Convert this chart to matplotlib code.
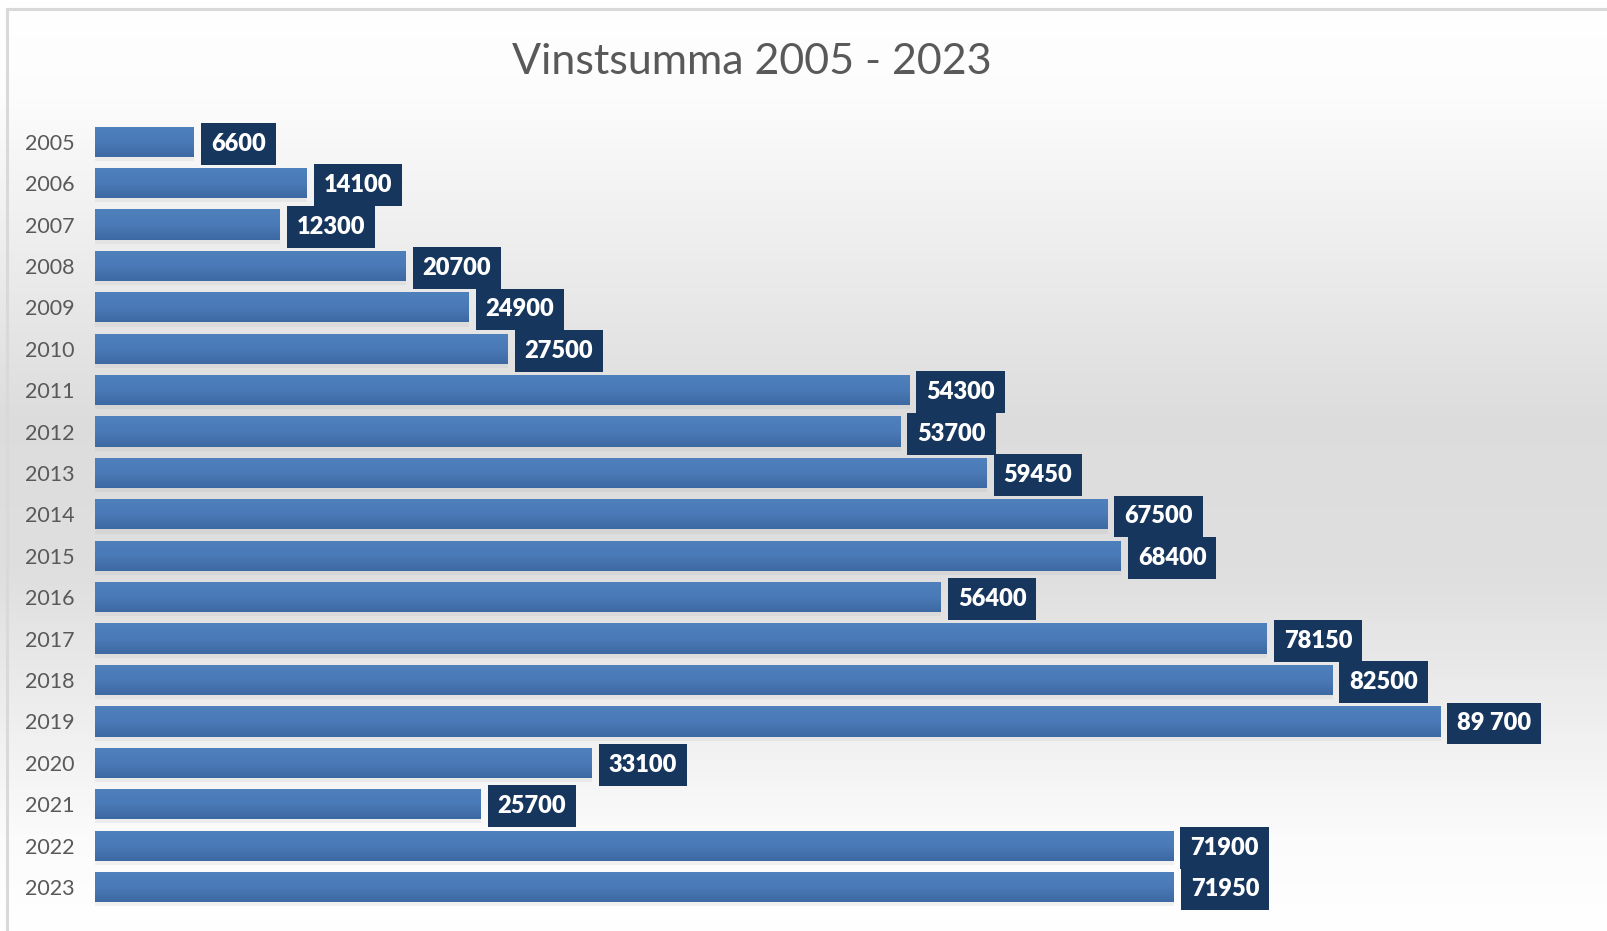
import numpy as np
import matplotlib as mpl
mpl.use('Agg')
from matplotlib import pyplot as plt
from matplotlib.colors import LinearSegmentedColormap
from matplotlib.patches import Rectangle

# Data
years = ['2005','2006','2007','2008','2009','2010','2011','2012','2013','2014',
	'2015','2016','2017','2018','2019','2020','2021','2022','2023']
values = [6600,14100,12300,20700,24900,27500,54300,53700,59450,67500,
	68400,56400,78150,82500,89700,33100,25700,71900,71950]
labels = ['6600','14100','12300','20700','24900','27500','54300','53700','59450','67500',
	'68400','56400','78150','82500','89 700','33100','25700','71900','71950']
title = 'Vinstsumma 2005 - 2023'

plt.rcParams['font.family'] = ['Lato','DejaVu Sans']

fig = plt.figure(figsize=(16.08,9.31),dpi=100)

# background gradient (white -> gray -> white)
bg = fig.add_axes([0,0,1,1],zorder=-10)
t = np.linspace(0,1,400)
g = np.interp(t,[0,0.1,0.45,0.62,0.9,1],[1.0,0.99,0.865,0.875,0.985,1.0])
bg.imshow(np.dstack([g,g,g]).reshape(400,1,3),aspect='auto',extent=[0,1,0,1],origin='upper')
bg.set_xlim(0,1); bg.set_ylim(0,1)
bg.axis('off')
bg.add_patch(Rectangle((7/1608,-0.1),1.2,1-9/931+0.1,fill=False,edgecolor='#d9d9d9',lw=2.2,transform=bg.transAxes))

ax = fig.add_axes([95.4/1608,0.025,1-95.4/1608-13/1608,0.845])
ax.set_facecolor('none')
y = np.arange(len(years))
h = 0.73

# shadows
ax.barh(y+0.1,values,height=h,left=0,color='#9a9a9a',alpha=0.12,zorder=1)
bars = ax.barh(y,values,height=h,color='#4775b1',zorder=2)

cmap = LinearSegmentedColormap.from_list('bar',['#4f81bd','#4a7ab7','#3d69a2'])
grad = np.linspace(0,1,64)[:,None]
for bar,v,yy in zip(bars,values,y):
	im = ax.imshow(grad,cmap=cmap,aspect='auto',extent=[0,v,yy+h/2,yy-h/2],zorder=3)
	im.set_clip_path(bar)

for v,yy,lab in zip(values,y,labels):
	ax.annotate(lab,(v,yy),xytext=(12,-1.5),textcoords='offset points',va='center',ha='left',
		color='white',fontsize=17,fontweight='heavy',zorder=5,
		bbox=dict(boxstyle='square,pad=0.42',fc='#17365d',ec='none'))

ax.set_xlim(0,100000)
ax.set_ylim(len(years)-0.5,-0.5)
ax.set_yticks(y)
ax.set_yticklabels(years,fontsize=15.5,color='#595959')
ax.tick_params(axis='y',length=0,pad=15)
ax.set_xticks([])
for s in ax.spines.values():
	s.set_visible(False)

fig.text(752/1608,1-62/931,title,ha='center',va='center',fontsize=31,color='#595959')

fig.savefig('out.png',dpi=100)
